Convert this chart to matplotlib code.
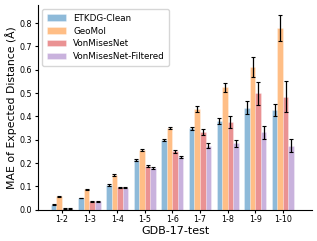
import numpy as np
import matplotlib
matplotlib.use("Agg")
import matplotlib.pyplot as plt

groups = ["1-2", "1-3", "1-4", "1-5", "1-6", "1-7", "1-8", "1-9", "1-10"]
methods = ["ETKDG-Clean", "GeoMol", "VonMisesNet", "VonMisesNet-Filtered"]

etkdg = [0.021, 0.050, 0.106, 0.212, 0.298, 0.348, 0.380, 0.437, 0.427]
geomol = [0.057, 0.087, 0.150, 0.256, 0.350, 0.430, 0.525, 0.613, 0.778]
vmn = [0.005, 0.037, 0.096, 0.187, 0.251, 0.331, 0.374, 0.499, 0.484]
vmn_f = [0.005, 0.037, 0.095, 0.179, 0.226, 0.275, 0.284, 0.331, 0.275]

etkdg_err = [0.002, 0.002, 0.003, 0.004, 0.005, 0.008, 0.012, 0.029, 0.025]
geomol_err = [0.003, 0.003, 0.004, 0.006, 0.006, 0.013, 0.019, 0.043, 0.056]
vmn_err = [0.002, 0.002, 0.003, 0.004, 0.006, 0.013, 0.026, 0.050, 0.067]
vmn_f_err = [0.002, 0.002, 0.003, 0.004, 0.006, 0.010, 0.015, 0.027, 0.027]

colors = ["tab:blue", "tab:orange", "tab:red", "tab:purple"]

fig, ax = plt.subplots(figsize=(3.17, 2.41), dpi=100)
x = np.arange(len(groups))
w = 0.2
series = [(etkdg, etkdg_err), (geomol, geomol_err), (vmn, vmn_err), (vmn_f, vmn_f_err)]
for i, ((vals, errs), name, c) in enumerate(zip(series, methods, colors)):
    ax.bar(x + (i - 1.5) * w, vals, w, yerr=errs, color=c, alpha=0.5, label=name,
           edgecolor="white", linewidth=0.4,
           error_kw=dict(ecolor="black", elinewidth=0.9, capsize=1.5, capthick=0.8))

ax.set_xticks(x)
ax.set_xticklabels(groups, fontsize=5.8)
ax.tick_params(axis="y", labelsize=5.8, length=2.5, pad=1.5)
ax.tick_params(axis="x", length=2.5, pad=1.5)
ax.set_yticks(np.arange(0, 0.81, 0.1))
ax.set_ylim(0, 0.878)
ax.set_xlim(-0.86, 9.06)
ax.set_xlabel("GDB-17-test", fontsize=8, labelpad=1)
ax.set_ylabel("MAE of Expected Distance (Å)", fontsize=7.8, labelpad=2)
ax.spines["top"].set_visible(False)
ax.spines["right"].set_visible(False)
ax.legend(loc="upper left", fontsize=6.3, handlelength=2.2, borderpad=0.5,
          labelspacing=0.45, bbox_to_anchor=(0.0, 1.0))

fig.subplots_adjust(left=0.12, right=0.985, bottom=0.13, top=0.98)
fig.savefig("out.png", dpi=100)
